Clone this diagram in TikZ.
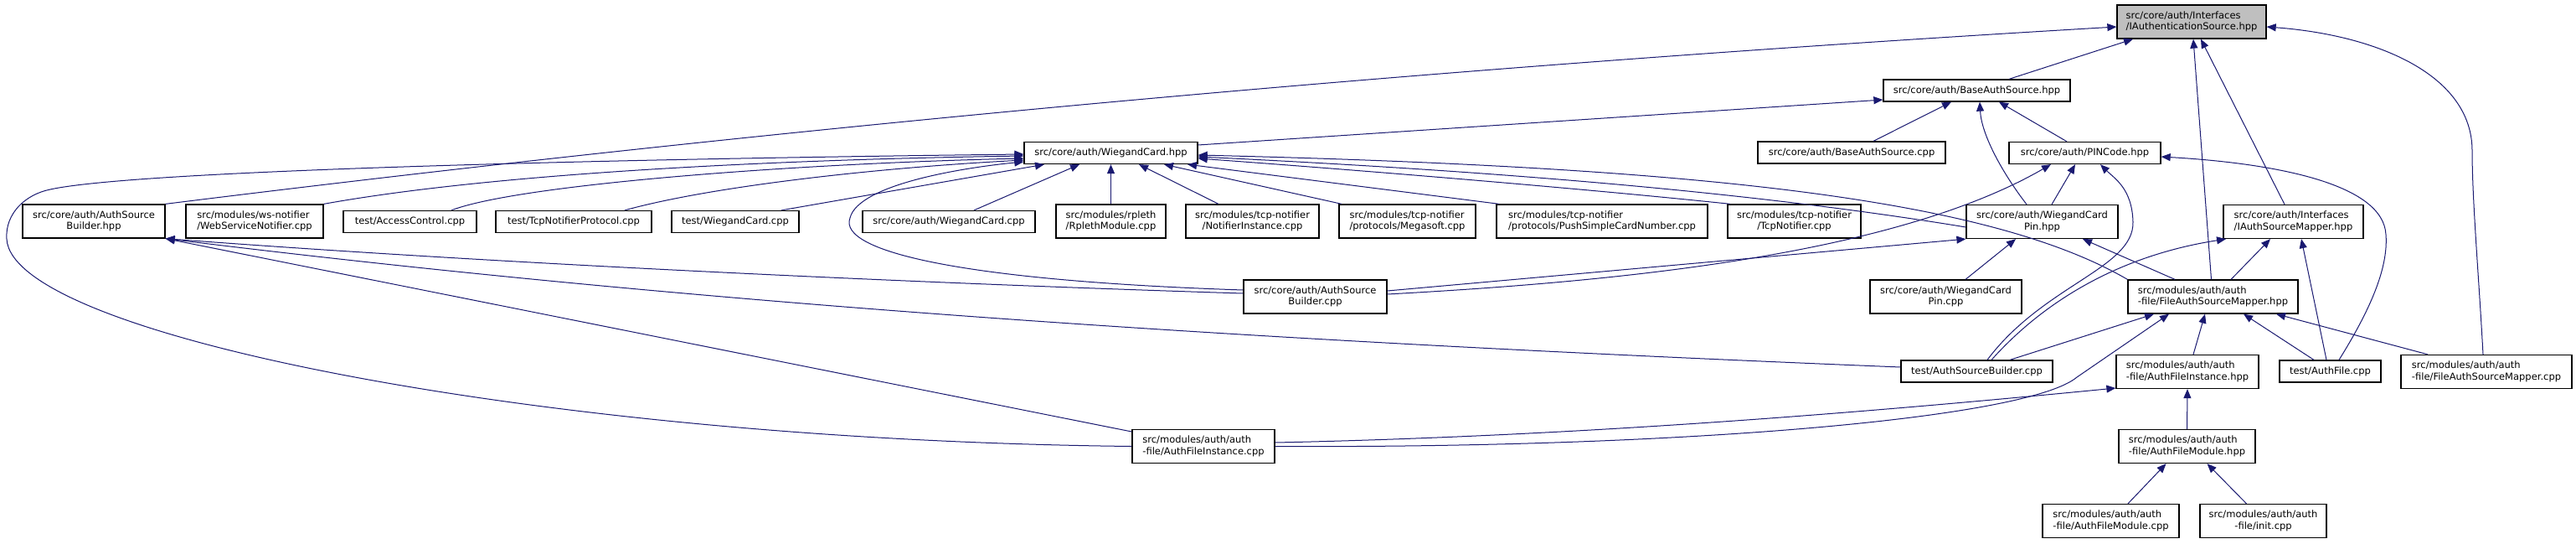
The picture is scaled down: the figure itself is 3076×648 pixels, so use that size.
\documentclass[tikz,border=0pt]{standalone}
\usepackage{fontspec}
\newfontfamily\dvsans{DejaVu Sans}
\usetikzlibrary{arrows.meta}
\definecolor{navy}{HTML}{191970}
\definecolor{hdrgray}{HTML}{BFBFBF}
\begin{document}
\begin{tikzpicture}[x=1pt,y=-1pt,
  base/.style={draw=black, line width=1.3pt, fill=white, inner sep=0pt,
    font={\dvsans\fontsize{11.5pt}{13.5pt}\selectfont}},
  one/.style={base, minimum height=26pt, align=center},
  twoc/.style={base, minimum height=40pt, align=center},
  twol/.style={base, minimum height=40pt, align=left},
  dep/.style={draw=navy, line width=1pt, -{Triangle[length=11pt,width=9pt]}}]
\useasboundingbox (0,0) rectangle (3076,648);
% nodes
\node[twol, minimum width=178pt, fill=hdrgray] (A) at (2617,26) {src/core/auth/Interfaces\\/IAuthenticationSource.hpp};
\node[one, minimum width=223pt] (B) at (2360.5,108) {src/core/auth/BaseAuthSource.hpp};
\node[one, minimum width=224pt] (C) at (2211,182) {src/core/auth/BaseAuthSource.cpp};
\node[one, minimum width=181pt] (D) at (2489.5,182.5) {src/core/auth/PINCode.hpp};
\node[one, minimum width=207pt] (E) at (1326.5,182.5) {src/core/auth/WiegandCard.hpp};
\node[twoc, minimum width=170pt] (F) at (112,264) {src/core/auth/AuthSource\\Builder.hpp};
\node[twol, minimum width=164pt] (G) at (304,264) {src/modules/ws-notifier\\/WebServiceNotifier.cpp};
\node[one, minimum width=159pt] (H) at (489.5,264.5) {test/AccessControl.cpp};
\node[one, minimum width=186pt] (I) at (685,264.5) {test/TcpNotifierProtocol.cpp};
\node[one, minimum width=152pt] (J) at (878,264.5) {test/WiegandCard.cpp};
\node[one, minimum width=206pt] (K) at (1133,264.5) {src/core/auth/WiegandCard.cpp};
\node[twol, minimum width=131pt] (L) at (1326.5,264) {src/modules/rpleth\\/RplethModule.cpp};
\node[twoc, minimum width=159pt] (M) at (1495.5,264) {src/modules/tcp-notifier\\/NotifierInstance.cpp};
\node[twol, minimum width=163pt] (N) at (1680.5,264) {src/modules/tcp-notifier\\/protocols/Megasoft.cpp};
\node[twol, minimum width=252pt] (O) at (1913,264) {src/modules/tcp-notifier\\/protocols/PushSimpleCardNumber.cpp};
\node[twoc, minimum width=159pt] (P) at (2142.5,264) {src/modules/tcp-notifier\\/TcpNotifier.cpp};
\node[twoc, minimum width=181pt] (Q) at (2438.5,264.5) {src/core/auth/WiegandCard\\Pin.hpp};
\node[twol, minimum width=167pt] (R) at (2738.5,264.5) {src/core/auth/Interfaces\\/IAuthSourceMapper.hpp};
\node[twoc, minimum width=171pt] (S) at (1570.5,354) {src/core/auth/AuthSource\\Builder.cpp};
\node[twoc, minimum width=181pt] (T) at (2323.5,354) {src/core/auth/WiegandCard\\Pin.cpp};
\node[twol, minimum width=203pt] (U) at (2642.5,354) {src/modules/auth/auth\\-file/FileAuthSourceMapper.hpp};
\node[one, minimum width=181pt] (V) at (2360.5,443) {test/AuthSourceBuilder.cpp};
\node[twol, minimum width=170pt] (W) at (2612,443.5) {src/modules/auth/auth\\-file/AuthFileInstance.hpp};
\node[one, minimum width=121pt] (X) at (2782.5,443) {test/AuthFile.cpp};
\node[twol, minimum width=204pt] (Y) at (2969,443.5) {src/modules/auth/auth\\-file/FileAuthSourceMapper.cpp};
\node[twol, minimum width=170pt] (Z) at (1437,532.5) {src/modules/auth/auth\\-file/AuthFileInstance.cpp};
\node[twol, minimum width=163pt] (AA) at (2611.5,532.5) {src/modules/auth/auth\\-file/AuthFileModule.hpp};
\node[twol, minimum width=163pt] (AB) at (2520.5,621.5) {src/modules/auth/auth\\-file/AuthFileModule.cpp};
\node[twoc, minimum width=151pt] (AC) at (2702.5,621.5) {src/modules/auth/auth\\-file/init.cpp};
% edges into A
\draw[dep] (F.north east) .. controls (972,147) and (1745,78) .. ([yshift=-6pt]A.west);
\draw[dep] ([xshift=38.5pt]B.north) -- ([xshift=-70pt]A.south);
\draw[dep] ([xshift=-2pt]U.north) -- ([xshift=2pt]A.south);
\draw[dep] ([xshift=-10.5pt]R.north) -- ([xshift=11pt]A.south);
\draw[dep] ([xshift=-4pt]Y.north) .. controls (2960,330) and (2952,240) .. (2952,180) .. controls (2952,90) and (2840,42) .. ([yshift=-6pt]A.east);
% edges into B
\draw[dep] ([yshift=9.5pt]E.east) -- ([yshift=-11pt]B.west);
\draw[dep] ([xshift=26pt]C.north) -- ([xshift=-30.5pt]B.south);
\draw[dep] ([xshift=-21.5pt]D.north) -- ([xshift=26.5pt]B.south);
\draw[dep] ([xshift=-18.5pt]Q.north) .. controls (2390,205) and (2366,160) .. ([xshift=3.5pt]B.south);
% edges into D
\draw[dep] ([yshift=3pt]S.east) .. controls (1930,336) and (2260,305) .. ([xshift=-40.5pt]D.south);
\draw[dep] ([xshift=11.5pt]Q.north) -- ([xshift=-11.5pt]D.south);
\draw[dep] ([xshift=12.5pt]V.north) .. controls (2440,340) and (2548,320) .. (2547,265) .. controls (2546,225) and (2525,213) .. ([xshift=18.5pt]D.south);
\draw[dep] ([xshift=10.5pt]X.north) .. controls (2830,370) and (2852,320) .. (2849,280) .. controls (2846,220) and (2720,195) .. ([yshift=-4.5pt]D.east);
% edges into Q
\draw[dep] ([yshift=7pt]S.east) -- (Q.south west);
\draw[dep] ([xshift=23.5pt]T.north) -- ([xshift=-31.5pt]Q.south);
\draw[dep] ([xshift=-45.5pt]U.north) -- ([xshift=48.5pt]Q.south);
% edges into R
\draw[dep] ([xshift=17.5pt]V.north) .. controls (2440,360) and (2530,305) .. ([xshift=-80.5pt]R.south);
\draw[dep] ([xshift=21.5pt]U.north) -- ([xshift=-27.5pt]R.south);
\draw[dep] ([xshift=-4.5pt]X.north) -- ([xshift=9.5pt]R.south);
% edges into E
\draw[dep] (Z.west) .. controls (650,525) and (14,400) .. (8,285) .. controls (6,255) and (30,232) .. (60,226) .. controls (160,204) and (700,190) .. ([yshift=-1.5pt]E.west);
\draw[dep] (G.north east) .. controls (600,205) and (950,190) .. ([yshift=-3.5pt]E.west);
\draw[dep] ([xshift=49.5pt]H.north) .. controls (620,220) and (950,195) .. ([yshift=-6.5pt]E.west);
\draw[dep] ([xshift=61pt]I.north) .. controls (850,222) and (1050,200) .. ([yshift=-8.5pt]E.west);
\draw[dep] ([yshift=8pt]S.west) .. controls (1150,335) and (1000,300) .. (1015,260) .. controls (1025,220) and (1150,200) .. ([yshift=-10.5pt]E.west);
\draw[dep] ([xshift=55pt]J.north) -- ([xshift=-79.5pt]E.south);
\draw[dep] ([xshift=30pt]K.north) -- ([xshift=-37.5pt]E.south);
\draw[dep] (L.north) -- (E.south);
\draw[dep] ([xshift=-40.5pt]M.north) -- ([xshift=33.5pt]E.south);
\draw[dep] ([xshift=-78.5pt]N.north) -- ([xshift=63.5pt]E.south);
\draw[dep] ([xshift=-123pt]O.north) -- ([xshift=91.5pt]E.south);
\draw[dep] ([xshift=-76.5pt]P.north) .. controls (1900,226) and (1650,205) .. ([yshift=-6.5pt]E.east);
\draw[dep] ([yshift=-6.5pt]Q.west) .. controls (2050,222) and (1700,200) .. ([yshift=-4.5pt]E.east);
\draw[dep] (U.north west) .. controls (2380,240) and (2050,200) .. ([yshift=-2.5pt]E.east);
% edges into F
\draw[dep] ([yshift=4pt]S.west) .. controls (1100,338) and (600,315) .. (F.south east);
\draw[dep] ([yshift=5pt]V.west) .. controls (1580,410) and (890,370) .. (F.south east);
\draw[dep] ([yshift=17.5pt]Z.west) -- (F.south east);
% edges into U
\draw[dep] ([xshift=39.5pt]V.north) -- ([xshift=-70.5pt]U.south);
\draw[dep] ([xshift=7pt]W.north) -- ([xshift=-9.5pt]U.south);
\draw[dep] ([xshift=-19.5pt]X.north) -- ([xshift=36.5pt]U.south);
\draw[dep] ([xshift=-70pt]Y.north) -- ([xshift=75.5pt]U.south);
\draw[dep] (Z.east) .. controls (2000,535) and (2420,500) .. (2480,450) -- ([xshift=-52.5pt]U.south);
% edges into W and AA
\draw[dep] ([yshift=4.5pt]Z.east) .. controls (1900,520) and (2250,490) .. ([yshift=-19.5pt]W.west);
\draw[dep] (AA.north) -- (W.south);
\draw[dep] ([xshift=20.5pt]AB.north) -- ([xshift=-25pt]AA.south);
\draw[dep] ([xshift=-20pt]AC.north) -- ([xshift=24pt]AA.south);
\end{tikzpicture}
\end{document}
